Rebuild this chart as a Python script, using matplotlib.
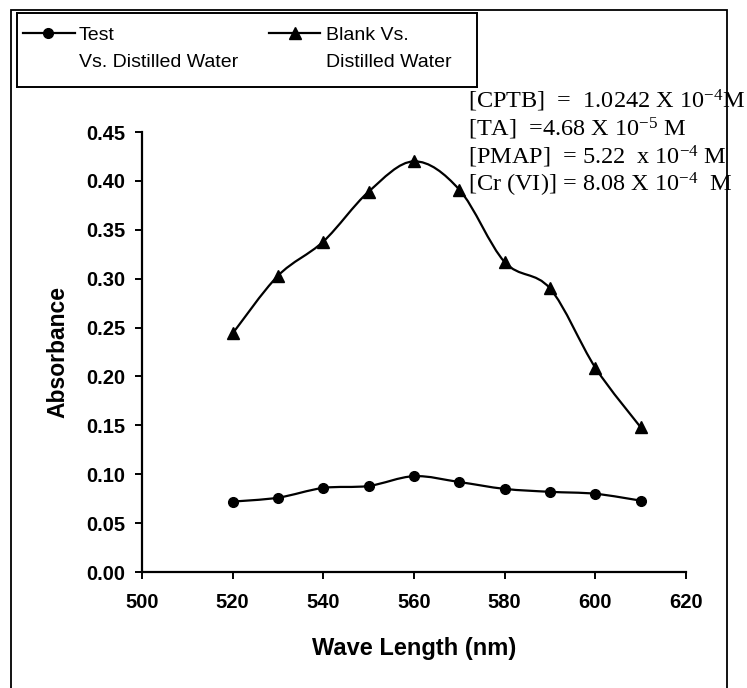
import numpy as np
import matplotlib
matplotlib.use('Agg')
import matplotlib.pyplot as plt
from matplotlib.path import Path
from matplotlib.patches import PathPatch, Rectangle
from matplotlib.lines import Line2D

plt.rcParams['font.family'] = ['Liberation Sans', 'DejaVu Sans']
plt.rcParams['mathtext.fontset'] = 'custom'
plt.rcParams['mathtext.rm'] = 'Liberation Serif'
plt.rcParams['mathtext.it'] = 'Liberation Serif:italic'

# Data
wavelength = [520, 530, 540, 550, 560, 570, 580, 590, 600, 610]
test_abs = [0.072, 0.076, 0.086, 0.088, 0.098, 0.092, 0.085, 0.082, 0.080, 0.073]
blank_abs = [0.244, 0.303, 0.338, 0.389, 0.420, 0.391, 0.317, 0.290, 0.209, 0.148]

x_ticks = [500, 520, 540, 560, 580, 600, 620]
y_ticks = [0.00, 0.05, 0.10, 0.15, 0.20, 0.25, 0.30, 0.35, 0.40, 0.45]

notes = [r'[CPTB]  =  1.0242 X 10$^{-4}$M',
         r'[TA]  =4.68 X 10$^{-5}$ M',
         r'[PMAP]  = 5.22  x 10$^{-4}$ M',
         r'[Cr (VI)] = 8.08 X 10$^{-4}$  M']


def smooth_path(xs, ys):
    # Excel-style smoothed line: cubic Bezier through the points
    p = np.column_stack([xs, ys]).astype(float)
    n = len(p)
    verts = [tuple(p[0])]
    codes = [Path.MOVETO]
    for i in range(n - 1):
        p0 = p[i - 1] if i > 0 else p[i]
        p1 = p[i]
        p2 = p[i + 1]
        p3 = p[i + 2] if i + 2 < n else p[i + 1]
        c1 = p1 + (p2 - p0) / 6.0
        c2 = p2 - (p3 - p1) / 6.0
        verts += [tuple(c1), tuple(c2), tuple(p2)]
        codes += [Path.CURVE4] * 3
    return Path(verts, codes)


W, H = 747, 688
fig = plt.figure(figsize=(W / 100, H / 100), dpi=100)

# outer chart border
fig.add_artist(Rectangle((11 / W, -0.05), (727 - 11) / W, 1 - 10 / H + 0.05,
                         transform=fig.transFigure, fill=False,
                         edgecolor='black', linewidth=1.3))

ax = fig.add_axes([142 / W, 1 - 572 / H, (686 - 142) / W, (572 - 132) / H])

ax.add_patch(PathPatch(smooth_path(wavelength, test_abs), fill=False,
                       edgecolor='black', linewidth=1.6))
ax.add_patch(PathPatch(smooth_path(wavelength, blank_abs), fill=False,
                       edgecolor='black', linewidth=1.6))
ax.plot(wavelength, test_abs, 'o', color='black', markersize=7)
ax.plot(wavelength, blank_abs, '^', color='black', markersize=8)

ax.set_xlim(500, 620)
ax.set_ylim(0, 0.45)
ax.set_xticks(x_ticks)
ax.set_yticks(y_ticks)
ax.set_yticklabels(['%.2f' % v for v in y_ticks])
for s in ['top', 'right']:
    ax.spines[s].set_visible(False)
for s in ['left', 'bottom']:
    ax.spines[s].set_linewidth(1.6)
ax.tick_params(axis='both', length=5, width=1.4, labelsize=14.5)
ax.tick_params(axis='y', pad=7)
ax.tick_params(axis='x', pad=10)
for lab in ax.get_xticklabels() + ax.get_yticklabels():
    lab.set_fontweight('bold')
ax.set_xlabel('Wave Length (nm)', fontsize=17, fontweight='bold', labelpad=18)
ax.set_ylabel('Absorbance', fontsize=16.5, fontweight='bold', labelpad=12)

# concentration notes
for i, t in enumerate(notes):
    fig.text(468 / W, 1 - (108 + 28 * i) / H, t, fontsize=17.5,
             family='Liberation Serif', ha='left', va='baseline')

# legend box drawn by hand (labels wrap onto two lines)
lg = fig.add_axes([17 / W, 1 - 87 / H, 460 / W, 74 / H])
lg.set_xlim(0, 460)
lg.set_ylim(74, 0)
lg.set_xticks([])
lg.set_yticks([])
for s in lg.spines.values():
    s.set_linewidth(1.4)
lg.add_line(Line2D([6, 58], [20, 20], color='black', linewidth=1.6))
lg.add_line(Line2D([31], [20], marker='o', color='black', markersize=7))
lg.add_line(Line2D([252, 303], [20, 20], color='black', linewidth=1.6))
lg.add_line(Line2D([278], [20], marker='^', color='black', markersize=8))
lg.text(62, 27, 'Test', fontsize=14, va='baseline')
lg.text(62, 54, 'Vs. Distilled Water', fontsize=14, va='baseline')
lg.text(309, 27, 'Blank Vs.', fontsize=14, va='baseline')
lg.text(309, 54, 'Distilled Water', fontsize=14, va='baseline')

fig.savefig('out.png', dpi=100)
